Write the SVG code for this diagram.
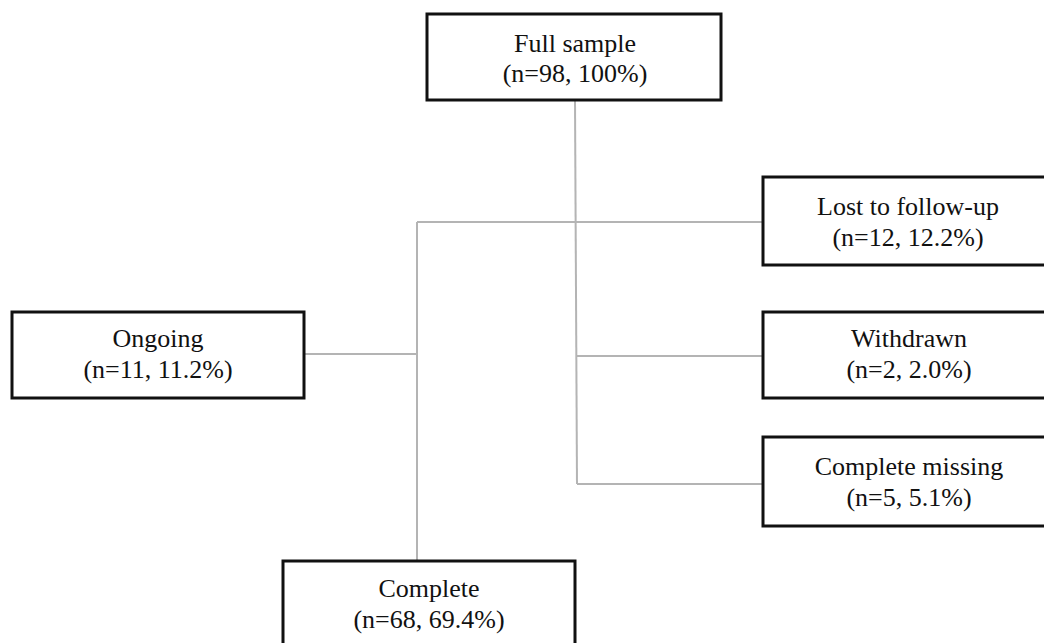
<svg xmlns="http://www.w3.org/2000/svg" width="1044" height="643" viewBox="0 0 1044 643">
<style>
.box{fill:#fff;stroke:#111;stroke-width:3}
.t{font-family:"Liberation Serif","Times New Roman",serif;font-size:26px;fill:#111;text-anchor:middle}
.c{fill:none;stroke:#b4b4b4;stroke-width:2}
</style>
<rect width="1044" height="643" fill="#fff"/>
<g id="connectors">
<path class="c" d="M575,100 L577,484"/>
<path class="c" d="M417,222 L763,222"/>
<path class="c" d="M417,222 L417,561"/>
<path class="c" d="M304,354 L417,354"/>
<path class="c" d="M577,356 L763,356"/>
<path class="c" d="M577,484 L763,484"/>
</g>
<g id="full-sample">
<rect class="box" x="427" y="14" width="294" height="86"/>
<text class="t" x="575" y="52">Full sample</text>
<text class="t" x="575" y="82">(n=98, 100%)</text>
</g>
<g id="lost">
<rect class="box" x="763" y="177" width="292" height="88"/>
<text class="t" x="908" y="215">Lost to follow-up</text>
<text class="t" x="908" y="246">(n=12, 12.2%)</text>
</g>
<g id="withdrawn">
<rect class="box" x="763" y="312" width="292" height="86"/>
<text class="t" x="909" y="347">Withdrawn</text>
<text class="t" x="909" y="378">(n=2, 2.0%)</text>
</g>
<g id="complete-missing">
<rect class="box" x="763" y="437" width="292" height="89"/>
<text class="t" x="909" y="475">Complete missing</text>
<text class="t" x="909" y="506">(n=5, 5.1%)</text>
</g>
<g id="ongoing">
<rect class="box" x="12" y="312" width="292" height="86"/>
<text class="t" x="158" y="347">Ongoing</text>
<text class="t" x="158" y="378">(n=11, 11.2%)</text>
</g>
<g id="complete">
<rect class="box" x="283" y="561" width="292" height="100"/>
<text class="t" x="429" y="597">Complete</text>
<text class="t" x="429" y="628">(n=68, 69.4%)</text>
</g>
</svg>
